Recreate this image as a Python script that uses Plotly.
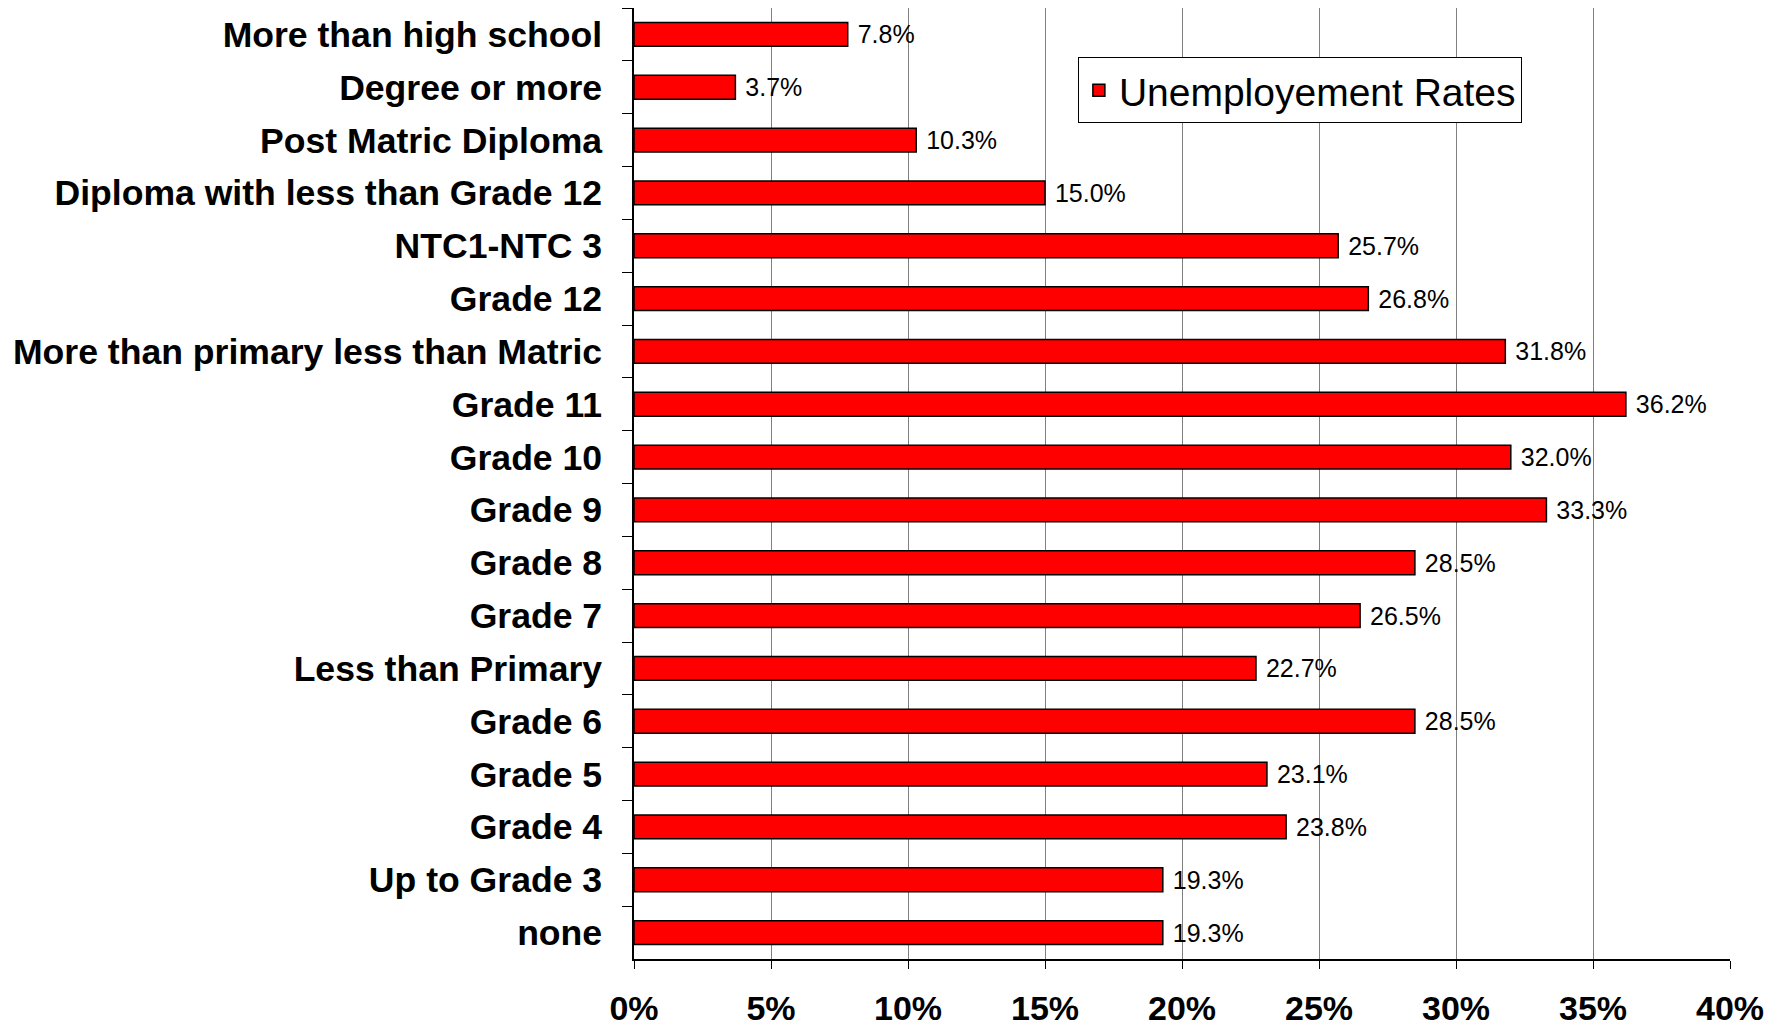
import plotly.graph_objects as go

categories = [
    "More than high school",
    "Degree or more",
    "Post Matric Diploma",
    "Diploma with less than Grade 12",
    "NTC1-NTC 3",
    "Grade 12",
    "More than primary less than Matric",
    "Grade 11",
    "Grade 10",
    "Grade 9",
    "Grade 8",
    "Grade 7",
    "Less than Primary",
    "Grade 6",
    "Grade 5",
    "Grade 4",
    "Up to Grade 3",
    "none",
]
rates = [7.8, 3.7, 10.3, 15.0, 25.7, 26.8, 31.8, 36.2, 32.0, 33.3,
         28.5, 26.5, 22.7, 28.5, 23.1, 23.8, 19.3, 19.3]
series_name = "Unemployement Rates"
x_ticks = [0, 5, 10, 15, 20, 25, 30, 35, 40]

FONT = "Liberation Sans, Arial, sans-serif"

fig = go.Figure()
fig.add_trace(go.Bar(
    y=categories,
    x=rates,
    orientation="h",
    name=series_name,
    marker=dict(color="#FF0000", line=dict(color="#000000", width=1.5)),
    text=[f" {v:.1f}%" for v in rates],
    textposition="outside",
    constraintext="none",
    textfont=dict(family=FONT, size=25, color="#000000"),
    cliponaxis=False,
    showlegend=True,
))

# page body has an 8px default margin; compensate in the figure size
fig.update_layout(
    width=1775,
    height=1020,
    margin=dict(l=626, r=53, t=0, b=69),
    paper_bgcolor="white",
    plot_bgcolor="white",
    bargap=0.55,
    font=dict(family=FONT, color="#000000"),
    legend=dict(
        x=0.405, y=0.948, xanchor="left", yanchor="top",
        bgcolor="white", bordercolor="#000000", borderwidth=1,
        font=dict(family=FONT, size=39, color="#000000"),
    ),
)

fig.update_xaxes(
    range=[0, 40],
    tickvals=x_ticks,
    ticktext=[f"{t}%" for t in x_ticks],
    showgrid=True,
    gridcolor="#808080",
    gridwidth=1,
    showline=True,
    linecolor="#000000",
    linewidth=1.5,
    ticks="outside",
    ticklen=8,
    tickcolor="#000000",
    ticklabelstandoff=10,
    tickfont=dict(family=FONT, size=34, color="#000000", weight="bold"),
    zeroline=False,
    fixedrange=True,
)

fig.update_yaxes(
    type="category",
    categoryorder="array",
    categoryarray=categories,
    autorange="reversed",
    showline=True,
    linecolor="#000000",
    linewidth=1.5,
    ticks="outside",
    tickson="boundaries",
    ticklen=10,
    tickcolor="#000000",
    ticklabelstandoff=23,
    tickfont=dict(family=FONT, size=35.6, color="#000000", weight="bold"),
    showgrid=False,
    fixedrange=True,
)

fig.write_html("out.html")
